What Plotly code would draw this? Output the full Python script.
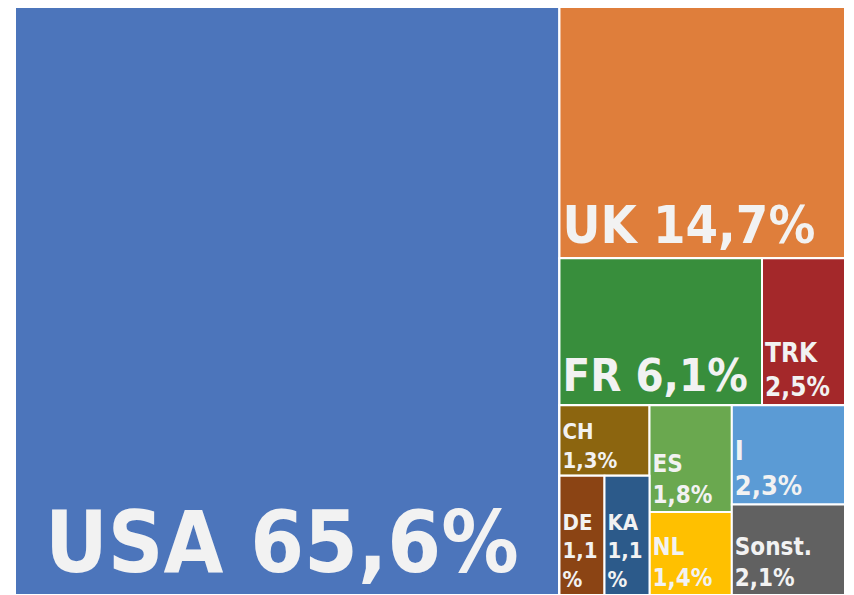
import plotly.graph_objects as go

# ---- data ----
countries = ["USA", "UK", "FR", "TRK", "CH", "DE", "KA", "ES", "NL", "I", "Sonst."]
shares = [65.6, 14.7, 6.1, 2.5, 1.3, 1.1, 1.1, 1.8, 1.4, 2.3, 2.1]
colors = ["#4c75bb", "#df7e3b", "#388e3c", "#a4282a", "#8c650f", "#8b4414",
          "#2c5a8a", "#6aa84f", "#ffc000", "#5b9bd5", "#616161"]
# grouping used to reproduce the tile arrangement
leaf_parent = ["root", "R1", "R3", "R3", "C1", "C1b", "C1b", "C2", "C2", "C3", "C3"]
group_ids = ["root", "R1", "R3", "R4", "C1", "C1b", "C2", "C3"]
group_parents = ["", "root", "R1", "R1", "R4", "C1", "R4", "R4"]
# label line layout per tile: separator between name and value
name_sep = [" ", " ", " ", "<br>", "<br>", "<br>", "<br>", "<br>", "<br>", "<br>", "<br>"]
pct_sep = ["", "", "", "", "", "<br>", "<br>", "", "", "", ""]
font_sizes = [86, 52, 45, 26, 22, 22, 22, 24, 24, 27, 24]


def fmt(v):
    return f"{v:.1f}".replace(".", ",")


# build node order (children in desired order, parents before children)
order = [
    ("root", None), ("leaf", 0), ("R1", None), ("leaf", 1), ("R3", None),
    ("leaf", 2), ("leaf", 3), ("R4", None), ("C1", None), ("leaf", 4),
    ("C1b", None), ("leaf", 5), ("leaf", 6), ("C2", None), ("leaf", 7),
    ("leaf", 8), ("C3", None), ("leaf", 9), ("leaf", 10),
]

ids, parents, values, texts, cols, sizes = [], [], [], [], [], []
for kind, i in order:
    if kind == "leaf":
        ids.append(countries[i])
        parents.append(leaf_parent[i])
        values.append(shares[i])
        num = fmt(shares[i])
        texts.append(("\u00a0" if i == 0 else "") + countries[i] + name_sep[i]
                     + num + pct_sep[i] + "%")
        cols.append(colors[i])
        sizes.append(font_sizes[i])
    else:
        g = group_ids.index(kind)
        ids.append(kind)
        parents.append(group_parents[g])
        values.append(0)
        texts.append("")
        cols.append("#ffffff")
        sizes.append(10)

fig = go.Figure(go.Treemap(
    ids=ids,
    labels=ids,
    parents=parents,
    values=values,
    branchvalues="remainder",
    sort=False,
    text=texts,
    textinfo="text",
    textposition="bottom left",
    textfont=dict(family="DejaVu Sans Condensed, DejaVu Sans, sans-serif",
                  size=sizes, color="#f2f2f2", weight="bold"),
    marker=dict(colors=cols, line=dict(color="#ffffff", width=2),
                pad=dict(t=0, l=0, r=0, b=0)),
    tiling=dict(packing="slice-dice", pad=0),
    pathbar=dict(visible=False),
    root=dict(color="#ffffff"),
    hoverinfo="skip",
))

fig.update_layout(
    width=854, height=595,
    margin=dict(l=15, r=9, t=7, b=0),
    paper_bgcolor="#ffffff",
    showlegend=False,
)

fig.write_html(
    "out.html",
    config={"displayModeBar": False},
    post_script="document.body.style.margin='0';document.body.style.overflow='hidden';",
)
